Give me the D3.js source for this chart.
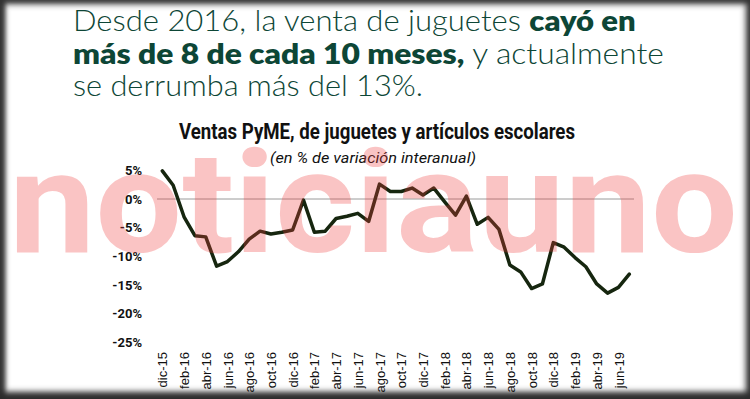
<!DOCTYPE html>
<html>
<head>
<meta charset="utf-8">
<script src="https://cdn.jsdelivr.net/npm/d3@7"></script>
<style>
  html, body { margin: 0; padding: 0; background: #fff; }
  #wrap { position: relative; width: 750px; height: 399px; overflow: hidden; background: #fff; }
  #frame { position: absolute; left: 0; top: 0; width: 750px; height: 399px; pointer-events: none;
    box-shadow: inset 0 0 6px 4px rgba(40,40,40,0.85), inset 0 -7px 6px 0 rgba(50,50,50,0.9), inset 3px 0 4px 2px rgba(60,60,60,0.7); }
  svg { display: block; }
</style>
</head>
<body>
<div id="wrap">
  <svg id="chart" width="750" height="399"></svg>
  <div id="frame"></div>
</div>
<script>
const months = ["dic-15","ene-16","feb-16","mar-16","abr-16","may-16","jun-16","jul-16","ago-16","sep-16","oct-16","nov-16",
  "dic-16","ene-17","feb-17","mar-17","abr-17","may-17","jun-17","jul-17","ago-17","sep-17","oct-17","nov-17",
  "dic-17","ene-18","feb-18","mar-18","abr-18","may-18","jun-18","jul-18","ago-18","sep-18","oct-18","nov-18",
  "dic-18","ene-19","feb-19","mar-19","abr-19","may-19","jun-19","jul-19"];
const values = [4.9, 2.4, -3.1, -6.4, -6.6, -11.7, -10.9, -9.2, -7.0, -5.6, -6.1, -5.8,
  -5.4, -0.2, -5.8, -5.6, -3.4, -3.0, -2.5, -3.9, 2.6, 1.3, 1.3, 1.9,
  0.7, 1.9, -0.5, -2.8, 0.5, -4.4, -3.2, -5.3, -11.5, -12.7, -15.6, -14.8,
  -7.6, -8.4, -10.2, -11.8, -14.8, -16.4, -15.4, -13.1];
const xTickLabels = ["dic-15","feb-16","abr-16","jun-16","ago-16","oct-16","dic-16","feb-17","abr-17","jun-17",
  "ago-17","oct-17","dic-17","feb-18","abr-18","jun-18","ago-18","oct-18","dic-18","feb-19","abr-19","jun-19"];
const yTicks = [5, 0, -5, -10, -15, -20, -25];

const headline = [
  [{t: "Desde 2016, la venta de juguetes ", b: false}, {t: "cayó en", b: true}],
  [{t: "más de 8 de cada 10 meses,", b: true}, {t: " y actualmente", b: false}],
  [{t: "se derrumba más del 13%.", b: false}]
];
const chartTitle = "Ventas PyME, de juguetes y artículos escolares";
const chartSubtitle = "(en % de variación interanual)";
const watermark = "noticiauno";

const svg = d3.select("#chart");
const data = months.map((m, i) => ({m, v: values[i]}));

const x = d3.scalePoint().domain(months).range([162.3, 629.3]);
const y = d3.scaleLinear().domain([-25, 5]).range([342.5, 170.3]);

// Headline
const hlBaselines = [31, 64, 96];
const hlWidths = [563, 591, 350];
headline.forEach((line, li) => {
  const g = svg.append("g");
  const t = g.append("text")
    .attr("x", 0).attr("y", 0)
    .style("font-family", "Lato, 'Open Sans', sans-serif")
    .style("font-size", "29px")
    .attr("fill", "#0d4636");
  line.forEach(seg => {
    t.append("tspan").text(seg.t)
      .style("font-weight", seg.b ? 800 : 300);
  });
  const w = t.node().getComputedTextLength();
  const s = hlWidths[li] / w;
  g.attr("transform", `translate(73,${hlBaselines[li]}) scale(${s},1)`);
});

// Chart title & subtitle
svg.append("text")
  .attr("x", 377).attr("y", 139)
  .attr("text-anchor", "middle")
  .attr("textLength", 396).attr("lengthAdjust", "spacingAndGlyphs")
  .style("font-family", "Roboto, sans-serif").style("font-weight", 700).style("font-size", "22px")
  .attr("fill", "#111")
  .text(chartTitle);
svg.append("text")
  .attr("x", 373).attr("y", 163)
  .attr("text-anchor", "middle")
  .attr("textLength", 206).attr("lengthAdjust", "spacingAndGlyphs")
  .style("font-family", "Roboto, sans-serif").style("font-style", "italic").style("font-size", "15px")
  .attr("fill", "#111")
  .text(chartSubtitle);

// Zero line
svg.append("line")
  .attr("x1", 157).attr("x2", 634)
  .attr("y1", y(0)).attr("y2", y(0))
  .attr("stroke", "#9a9a9a").attr("stroke-width", 1);

// Y axis
const yAxis = svg.append("g")
  .attr("transform", "translate(142,0)")
  .call(d3.axisLeft(y).tickValues(yTicks).tickFormat(d => d + "%").tickSize(0).tickPadding(0));
yAxis.select(".domain").remove();
yAxis.selectAll("text")
  .style("font-family", "Roboto, sans-serif").style("font-weight", 700).style("font-size", "13px")
  .attr("fill", "#111");

// X axis
const xAxis = svg.append("g")
  .attr("transform", "translate(0,352)")
  .call(d3.axisBottom(x).tickValues(xTickLabels).tickSize(0));
xAxis.select(".domain").remove();
xAxis.selectAll("text")
  .attr("x", 0).attr("y", 0).attr("dy", "0.35em")
  .attr("transform", "rotate(-90)")
  .attr("text-anchor", "end")
  .style("font-family", "'Liberation Sans', Arial, sans-serif").style("font-size", "13px")
  .attr("fill", "#111");

// Line
svg.append("path")
  .datum(data)
  .attr("fill", "none")
  .attr("stroke", "#16260f")
  .attr("stroke-width", 3.5)
  .attr("stroke-linejoin", "round")
  .attr("stroke-linecap", "round")
  .attr("d", d3.line().x(d => x(d.m)).y(d => y(d.v)));

// Watermark
svg.append("text")
  .attr("x", 9).attr("y", 252)
  .attr("textLength", 729).attr("lengthAdjust", "spacingAndGlyphs")
  .style("font-family", "Roboto, Arial, sans-serif").style("font-weight", 700).style("font-size", "142px")
  .attr("fill", "rgb(240,60,60)").attr("fill-opacity", 0.3)
  .text(watermark);
</script>
</body>
</html>
